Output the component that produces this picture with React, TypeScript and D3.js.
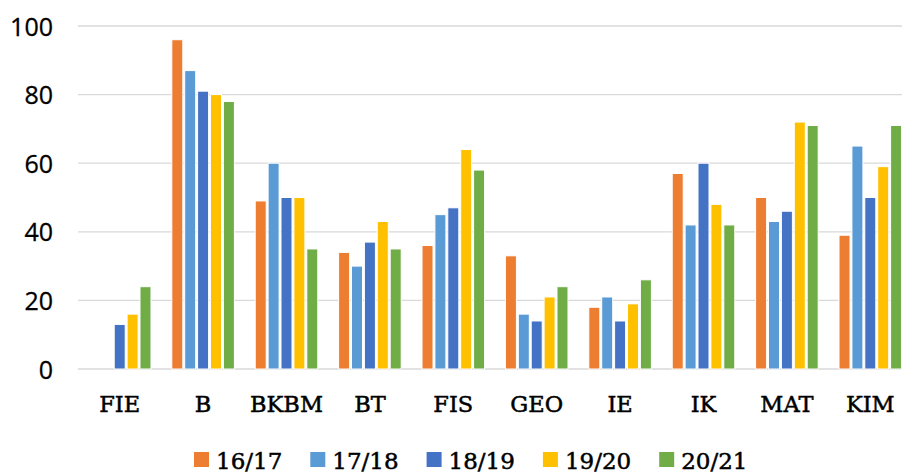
import React, { useEffect, useRef } from "react";
import * as d3 from "d3";

const categories = ["FIE", "B", "BKBM", "BT", "FIS", "GEO", "IE", "IK", "MAT", "KIM"];
const seriesNames = ["16/17", "17/18", "18/19", "19/20", "20/21"];
const colors = ["#ED7D31", "#5B9BD5", "#4472C4", "#FFC000", "#70AD47"];

const s1617: (number | null)[] = [null, 96, 49, 34, 36, 33, 18, 57, 50, 39];
const s1718: (number | null)[] = [null, 87, 60, 30, 45, 16, 21, 42, 43, 65];
const s1819: (number | null)[] = [13, 81, 50, 37, 47, 14, 14, 60, 46, 50];
const s1920: (number | null)[] = [16, 80, 50, 43, 64, 21, 19, 48, 72, 59];
const s2021: (number | null)[] = [24, 78, 35, 35, 58, 24, 26, 42, 71, 71];
const yTicks = [0, 20, 40, 60, 80, 100];

const seriesValues = [s1617, s1718, s1819, s1920, s2021];

const App = () => {
  const svgRef = useRef<SVGSVGElement | null>(null);

  useEffect(() => {
    const svg = d3.select(svgRef.current);
    svg.selectAll("*").remove();

    const width = 902;
    const height = 473;
    const serif = "'DejaVu Serif', serif";
    const sans = "'Open Sans', sans-serif";

    const x0 = d3
      .scaleBand<string>()
      .domain(categories)
      .range([78, 912])
      .paddingInner(0.227)
      .paddingOuter(0.1135);
    const x1 = d3.scaleBand<string>().domain(seriesNames).range([0, x0.bandwidth()]);
    const y = d3.scaleLinear().domain([0, 100]).range([369, 26]);

    svg.attr("width", width).attr("height", height);

    // gridlines
    svg
      .append("g")
      .selectAll("line")
      .data(yTicks)
      .join("line")
      .attr("x1", 78)
      .attr("x2", width)
      .attr("y1", (d) => y(d))
      .attr("y2", (d) => y(d))
      .attr("stroke", "#d9d9d9")
      .attr("stroke-width", 1.3);

    // y labels
    svg
      .append("g")
      .selectAll("text")
      .data(yTicks)
      .join("text")
      .attr("x", 53)
      .attr("y", (d) => y(d) + 9.5)
      .attr("text-anchor", "end")
      .style("font-family", sans)
      .style("font-size", "25px")
      .attr("fill", "#000")
      .attr("stroke", "#000")
      .attr("stroke-width", 0.3)
      .text((d) => d);

    // bars
    const groups = svg
      .append("g")
      .selectAll("g")
      .data(categories)
      .join("g")
      .attr("transform", (d) => `translate(${x0(d)},0)`);

    groups
      .selectAll("rect")
      .data((_, i) =>
        seriesNames
          .map((s, k) => ({ s, k, v: seriesValues[k][i] }))
          .filter((d) => d.v !== null)
      )
      .join("rect")
      .attr("x", (d) => (x1(d.s) as number) + 0.95)
      .attr("width", x1.bandwidth() - 1.9)
      .attr("y", (d) => y(d.v as number))
      .attr("height", (d) => y(0) - y(d.v as number))
      .attr("fill", (d) => colors[d.k])
      .attr("stroke", "#fff")
      .attr("stroke-width", 1);

    // x labels
    svg
      .append("g")
      .selectAll("text")
      .data(categories)
      .join("text")
      .attr("x", (d) => (x0(d) as number) + x0.bandwidth() / 2)
      .attr("y", 412)
      .attr("text-anchor", "middle")
      .style("font-family", serif)
      .style("font-size", "22.5px")
      .attr("fill", "#000")
      .attr("stroke", "#000")
      .attr("stroke-width", 0.5)
      .text((d) => d);

    // legend
    const legend = svg
      .append("g")
      .selectAll("g")
      .data(seriesNames)
      .join("g")
      .attr("transform", (_, i) => `translate(${194 + i * 116.3},452)`);

    legend
      .append("rect")
      .attr("width", 15)
      .attr("height", 15)
      .attr("fill", (_, i) => colors[i]);

    legend
      .append("text")
      .attr("x", 22)
      .attr("y", 16.5)
      .style("font-family", serif)
      .style("font-size", "23px")
      .attr("fill", "#000")
      .attr("stroke", "#000")
      .attr("stroke-width", 0.5)
      .text((d) => d);
  }, []);

  return (
    <div style={{ position: "absolute", left: 0, top: 0, background: "#fff" }}>
      <svg ref={svgRef} style={{ display: "block" }}></svg>
    </div>
  );
};

export default App;
